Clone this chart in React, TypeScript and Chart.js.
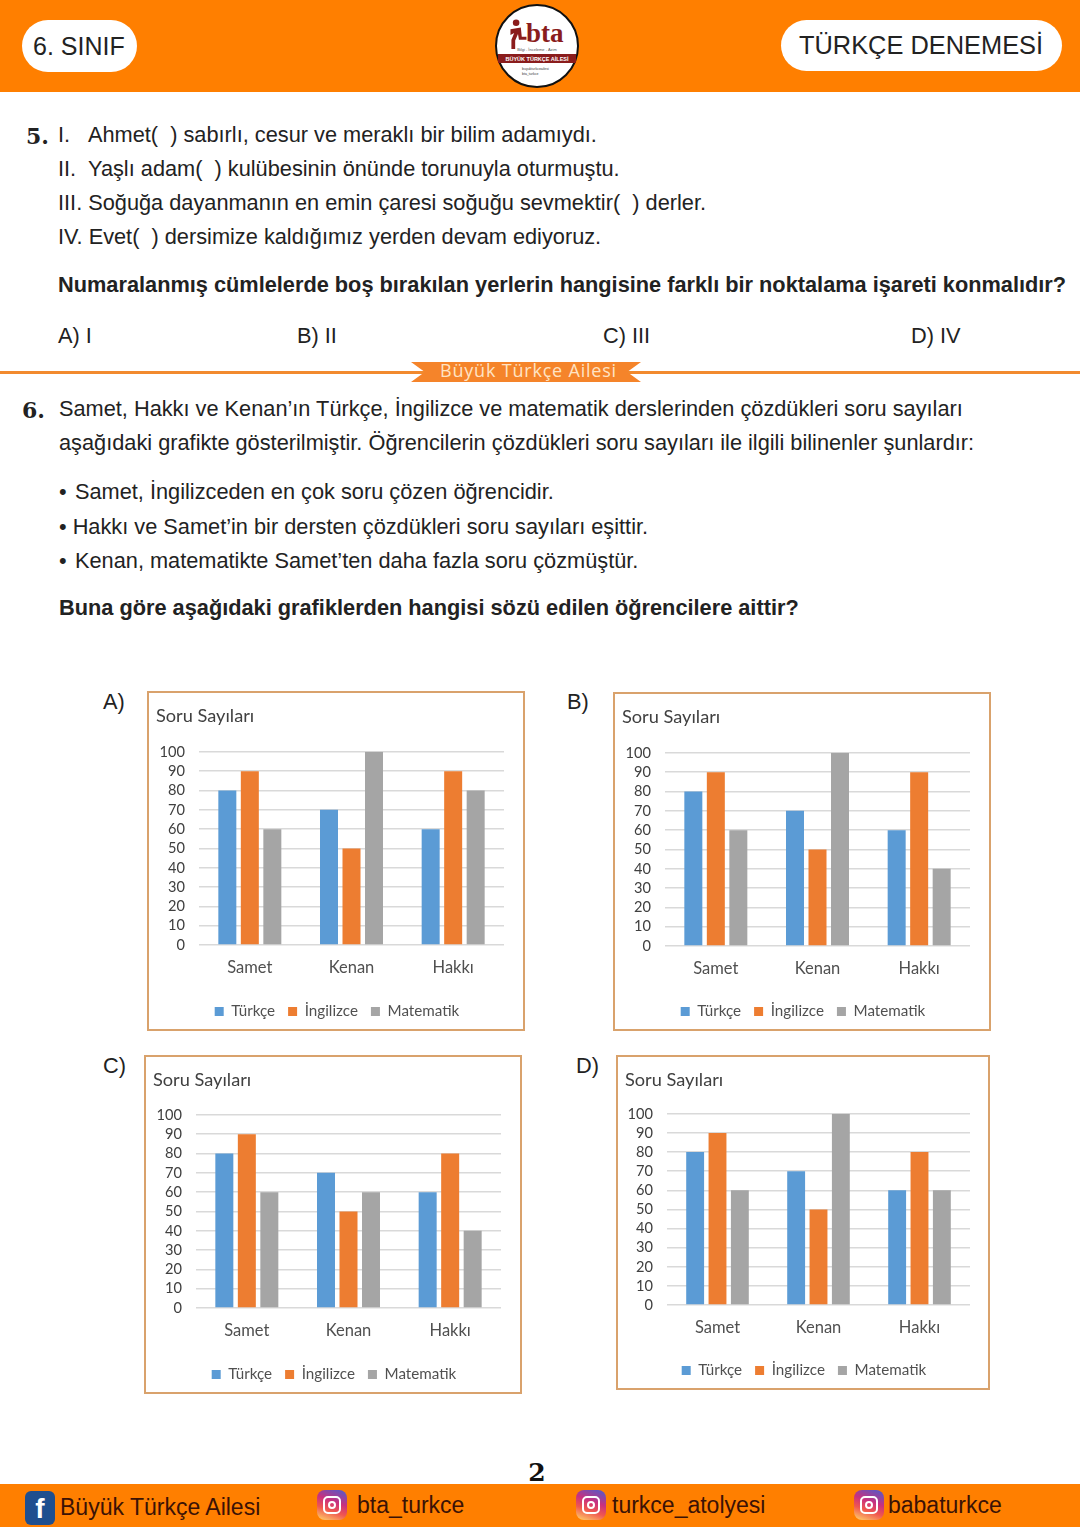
import React, { useEffect, useRef } from "react";
import { Chart, registerables } from "chart.js";

Chart.register(...registerables);

const students = ["Samet", "Kenan", "Hakkı"];
const subjects = ["Türkçe", "İngilizce", "Matematik"];
const subjectColors = ["#5b9bd5", "#ed7d31", "#a5a5a5"];
const yTicks = [0, 10, 20, 30, 40, 50, 60, 70, 80, 90, 100];
const chartTitle = "Soru Sayıları";

const turkceA = [80, 70, 60];
const ingilizceA = [90, 50, 90];
const matematikA = [60, 100, 80];
const turkceB = [80, 70, 60];
const ingilizceB = [90, 50, 90];
const matematikB = [60, 100, 40];
const turkceC = [80, 70, 60];
const ingilizceC = [90, 50, 80];
const matematikC = [60, 60, 40];
const turkceD = [80, 70, 60];
const ingilizceD = [90, 50, 80];
const matematikD = [60, 100, 60];

const CHART_FONT = "Lato, 'Open Sans', sans-serif";
const BODY = "'Liberation Sans', Arial, sans-serif";
const SERIF = "'DejaVu Serif', serif";
const ORANGE = "#ff7f00";

type Box = { x: number; y: number; w: number; h: number; top: number; bottom: number; left: number; right: number };

function MiniChart({ box, series }: { box: Box; series: number[][] }) {
  const ref = useRef<HTMLCanvasElement>(null);
  useEffect(() => {
    const centerLegend = {
      id: "centerLegend",
      afterLayout(c: any) {
        const shift = box.w / 2 + 1 - (c.legend.left + c.legend.right) / 2;
        c.legend.left += shift;
        c.legend.right += shift;
      },
    };
    const chart = new Chart(ref.current as HTMLCanvasElement, {
      type: "bar",
      plugins: [centerLegend],
      data: {
        labels: students,
        datasets: subjects.map((s, i) => ({
          label: s,
          data: series[i],
          backgroundColor: subjectColors[i],
          categoryPercentage: 0.664,
          barPercentage: 0.8,
        })),
      },
      options: {
        responsive: false,
        animation: false,
        devicePixelRatio: 1,
        layout: { padding: { left: 9, right: box.w - box.right, top: 0, bottom: 2 } },
        plugins: {
          tooltip: { enabled: false },
          title: {
            display: true,
            text: chartTitle,
            align: "start",
            color: "#404040",
            font: { family: CHART_FONT, size: 18.2, weight: "normal", lineHeight: 1.2 },
            padding: { top: 14, bottom: box.top - 14 - 22 },
          },
          legend: {
            display: true,
            position: "bottom",
            labels: {
              boxWidth: 9,
              boxHeight: 9,
              padding: 13,
              color: "#505050",
              font: { family: CHART_FONT, size: 15.2 },
            },
          },
        },
        scales: {
          x: {
            grid: { display: false },
            border: { display: false },
            ticks: { color: "#505050", padding: 5, font: { family: CHART_FONT, size: 16.5 } },
            afterFit(s: any) {
              s.height = box.h - box.bottom - 41.3;
            },
          },
          y: {
            min: 0,
            max: 100,
            afterBuildTicks(s: any) {
              s.ticks = yTicks.map((v) => ({ value: v }));
            },
            grid: { color: "#d9d9d9", lineWidth: 1.6, drawTicks: false },
            border: { display: false },
            ticks: { autoSkip: false, color: "#404040", padding: 14, font: { family: CHART_FONT, size: 14.6 } },
            afterFit(s: any) {
              s.width = box.left - 9;
            },
          },
        },
      } as any,
    });
    return () => chart.destroy();
  }, []);
  return (
    <div style={{ position: "absolute", left: box.x, top: box.y, width: box.w, height: box.h, background: "#fff" }}>
      <canvas ref={ref} width={box.w} height={box.h} style={{ display: "block" }} />
      <div style={{ position: "absolute", inset: 0, border: "2px solid #d9a26c", boxSizing: "border-box" }} />
    </div>
  );
}

function T({ x, y, s = 21.75, b, f = BODY, c = "#222", children, center, ls }: any) {
  return (
    <div
      style={{
        position: "absolute",
        left: x,
        top: y,
        transform: center ? "translate(-50%,-50%)" : "translateY(-50%)",
        fontSize: s,
        fontWeight: b ? 700 : 400,
        fontFamily: f,
        color: c,
        whiteSpace: "pre",
        lineHeight: 1.2,
        letterSpacing: ls,
      }}
    >
      {children}
    </div>
  );
}

function Insta({ x }: { x: number }) {
  return (
    <div
      style={{
        position: "absolute",
        left: x,
        top: 1490,
        width: 30,
        height: 30,
        borderRadius: 8,
        background: "linear-gradient(20deg,#fdc468 5%,#f0574f 35%,#c9307f 60%,#5b57c4 95%)",
      }}
    >
      <div style={{ position: "absolute", left: 6, top: 6, width: 18, height: 18, border: "2px solid #fff", borderRadius: 5, boxSizing: "border-box" }} />
      <div style={{ position: "absolute", left: 11, top: 11, width: 8, height: 8, border: "2px solid #fff", borderRadius: "50%", boxSizing: "border-box" }} />
    </div>
  );
}

export default function App() {
  useEffect(() => {
    document.body.style.margin = "0";
  }, []);
  const FOOT = "#3b1206";
  return (
    <div style={{ position: "relative", width: 1080, height: 1527, background: "#fff", overflow: "hidden" }}>
      {/* header */}
      <div style={{ position: "absolute", left: 0, top: 0, width: 1080, height: 92, background: ORANGE }} />
      <div style={{ position: "absolute", left: 22, top: 20, width: 115, height: 52, borderRadius: 26, background: "#fff" }} />
      <div style={{ position: "absolute", left: 781, top: 20, width: 281, height: 51, borderRadius: 26, background: "#fff" }} />
      <T x={33} y={46} s={25}>6. SINIF</T>
      <T x={799} y={45} s={25.4}>TÜRKÇE DENEMESİ</T>
      <div style={{ position: "absolute", left: 495, top: 4, width: 84, height: 84, borderRadius: "50%", background: "#fff", border: "2px solid #111", boxSizing: "border-box" }} />
      <svg style={{ position: "absolute", left: 507, top: 18 }} width="22" height="32" viewBox="0 0 22 34">
        <circle cx="9" cy="5" r="3.5" fill="#8a1c1c" />
        <path d="M3 12 L14 10 L15 20 L20 20 L20 23 L12 23 L11 17 L8 24 L8 33 L4 33 L4 23 L7 16 L3 18 Z" fill="#8a1c1c" />
      </svg>
      <T x={526} y={33} s={27} b f="'Liberation Serif', serif" c="#8a1c1c">bta</T>
      <T x={537} y={49.5} s={4} c="#555" center>Bilgi - İnceleme - Azim</T>
      <div style={{ position: "absolute", left: 498, top: 54, width: 78, height: 9, background: "#8a1c1c" }} />
      <T x={537} y={58.5} s={5.5} b c="#fff" center>BÜYÜK TÜRKÇE AİLESİ</T>
      <T x={522} y={69} s={3.5} c="#333">buyukturkceailesi</T>
      <T x={522} y={74} s={3.5} c="#333">bta_turkce</T>

      {/* question 5 */}
      <T x={26} y={136} s={22} b f={SERIF}>5.</T>
      <T x={58} y={135}>I.</T>
      <T x={88} y={135}>Ahmet(  ) sabırlı, cesur ve meraklı bir bilim adamıydı.</T>
      <T x={58} y={169}>II.</T>
      <T x={88} y={169}>Yaşlı adam(  ) kulübesinin önünde torunuyla oturmuştu.</T>
      <T x={58} y={203}>III. Soğuğa dayanmanın en emin çaresi soğuğu sevmektir(  ) derler.</T>
      <T x={58} y={237}>IV. Evet(  ) dersimize kaldığımız yerden devam ediyoruz.</T>
      <T x={58} y={285} b>Numaralanmış cümlelerde boş bırakılan yerlerin hangisine farklı bir noktalama işareti konmalıdır?</T>
      <T x={58} y={336}>A) I</T>
      <T x={297} y={336}>B) II</T>
      <T x={603} y={336}>C) III</T>
      <T x={911} y={336}>D) IV</T>

      {/* banner */}
      <div style={{ position: "absolute", left: 0, top: 371, width: 1080, height: 3, background: "#f28a2e" }} />
      <div
        style={{
          position: "absolute",
          left: 411,
          top: 362,
          width: 230,
          height: 20,
          background: "#f5842a",
          clipPath: "polygon(0 0,100% 0,94% 50%,100% 100%,0 100%,6% 50%)",
        }}
      />
      <T x={528.5} y={371} s={18} f="'Open Sans', sans-serif" c="#ffe3c4" center ls="0.8px">Büyük Türkçe Ailesi</T>

      {/* question 6 */}
      <T x={22} y={410} s={22} b f={SERIF}>6.</T>
      <T x={59} y={409}>Samet, Hakkı ve Kenan’ın Türkçe, İngilizce ve matematik derslerinden çözdükleri soru sayıları</T>
      <T x={59} y={443}>aşağıdaki grafikte gösterilmiştir. Öğrencilerin çözdükleri soru sayıları ile ilgili bilinenler şunlardır:</T>
      <T x={59} y={492}>•</T>
      <T x={75} y={492}>Samet, İngilizceden en çok soru çözen öğrencidir.</T>
      <T x={59} y={527}>• Hakkı ve Samet’in bir dersten çözdükleri soru sayıları eşittir.</T>
      <T x={59} y={561}>•</T>
      <T x={75} y={561}>Kenan, matematikte Samet’ten daha fazla soru çözmüştür.</T>
      <T x={59} y={608} b>Buna göre aşağıdaki grafiklerden hangisi sözü edilen öğrencilere aittir?</T>

      <T x={103} y={702}>A)</T>
      <T x={567} y={702}>B)</T>
      <T x={103} y={1066}>C)</T>
      <T x={576} y={1066}>D)</T>

      <MiniChart box={{ x: 147, y: 691, w: 378, h: 340, top: 61, bottom: 253, left: 52, right: 357 }} series={[turkceA, ingilizceA, matematikA]} />
      <MiniChart box={{ x: 613, y: 692, w: 378, h: 339, top: 61, bottom: 253, left: 52, right: 357 }} series={[turkceB, ingilizceB, matematikB]} />
      <MiniChart box={{ x: 144, y: 1055, w: 378, h: 339, top: 60, bottom: 252, left: 52, right: 357 }} series={[turkceC, ingilizceC, matematikC]} />
      <MiniChart box={{ x: 616, y: 1055, w: 374, h: 335, top: 59, bottom: 249, left: 51, right: 354 }} series={[turkceD, ingilizceD, matematikD]} />

      {/* footer */}
      <div style={{ position: "absolute", left: 0, top: 1484, width: 1080, height: 43, background: ORANGE }} />
      <T x={537} y={1473} s={25} b f={SERIF} c="#111" center>2</T>
      <div style={{ position: "absolute", left: 25, top: 1491, width: 30, height: 34, borderRadius: 6, background: "#1f4f8f" }} />
      <T x={40} y={1509} s={28} b c="#fff" center>f</T>
      <T x={60} y={1508} s={23} c={FOOT}>Büyük Türkçe Ailesi</T>
      <Insta x={317} />
      <T x={357} y={1506} s={23} c={FOOT}>bta_turkce</T>
      <Insta x={576} />
      <T x={612} y={1506} s={23} c={FOOT}>turkce_atolyesi</T>
      <Insta x={854} />
      <T x={888} y={1506} s={23} c={FOOT}>babaturkce</T>
    </div>
  );
}
